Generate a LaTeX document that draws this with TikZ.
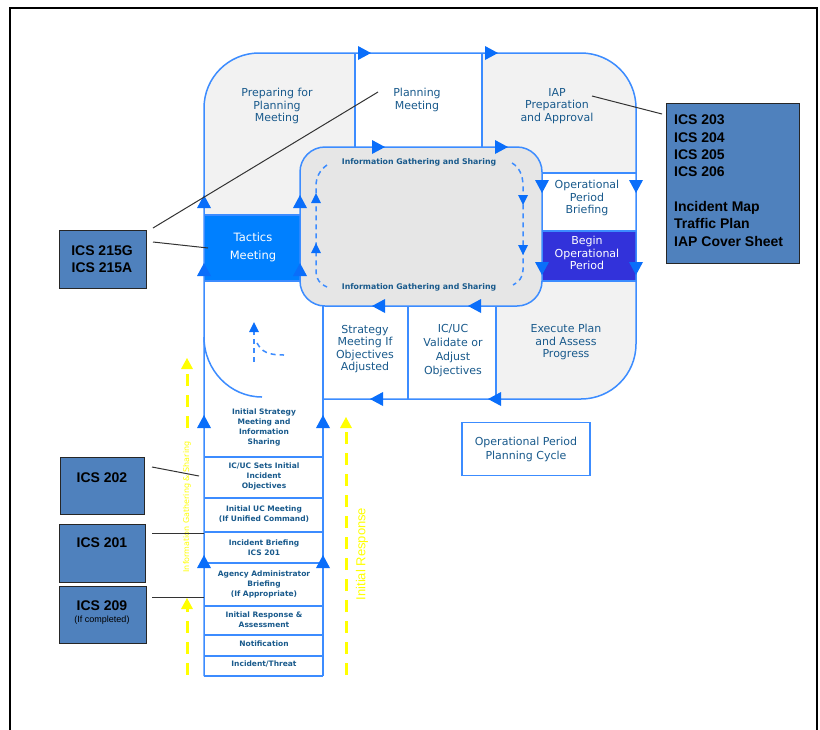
\documentclass[tikz,border=0pt]{standalone}
\usepackage{fontspec}
\setmainfont{DejaVu Sans}
\newfontfamily\arialf{Liberation Sans}
\definecolor{lineblue}{RGB}{60,140,255}
\definecolor{arrblue}{RGB}{10,110,250}
\definecolor{txtblue}{RGB}{25,90,140}
\definecolor{lgray}{RGB}{242,242,242}
\definecolor{mgray}{RGB}{230,230,230}
\definecolor{tacblue}{RGB}{0,128,255}
\definecolor{beginblue}{RGB}{50,50,218}
\definecolor{icsblue}{RGB}{79,129,189}
\definecolor{ylw}{RGB}{255,255,0}
\begin{document}
\begin{tikzpicture}[x=1pt,y=-1pt,
 bl/.style={draw=lineblue,line width=1.5pt},
 lbl/.style={font=\fontsize{11}{12.5}\selectfont,text=txtblue,align=center,inner sep=0pt},
 stk/.style={font=\bfseries\fontsize{7.5}{10}\selectfont,text=txtblue,align=center,inner sep=0pt},
 info/.style={font=\bfseries\fontsize{7.8}{9}\selectfont,text=txtblue,inner sep=0pt},
 icsbox/.style={draw=black!85,line width=1pt,fill=icsblue},
 icst/.style={font=\arialf\bfseries\fontsize{14}{17.3}\selectfont,text=black,inner sep=0pt},
 leader/.style={draw=black!80,line width=1pt},
 tri/.pic={\fill[arrblue] (0,0) -- (-13,-7) -- (-13,7) -- cycle;},
 stri/.pic={\fill[arrblue] (0,0) -- (-10,-5) -- (-10,5) -- cycle;},
 ytri/.pic={\fill[ylw] (0,0) -- (-11,-6) -- (-11,6) -- cycle;},
 dsh/.style={draw=lineblue,line width=1.5pt,dash pattern=on 5pt off 4pt},
 ydsh/.style={draw=ylw,line width=3pt,dash pattern=on 12pt off 9pt},
]
\useasboundingbox (0,0) rectangle (820,729);
\fill[white] (0,0) rectangle (820,729);
\begin{scope}
\clip (0,0) rectangle (820,729);
\draw[line width=2pt] (10,740) -- (10,8) -- (817,8) -- (817,740);
\end{scope}

% gray outer region
\fill[lgray] (204,281) -- (204,108) .. controls (204,77.6) and (228.6,53) .. (259,53) -- (581,53) .. controls (611.4,53) and (636,77.6) .. (636,108) -- (636,344) .. controls (636,374.4) and (611.4,399) .. (581,399) -- (323,399) -- (323,281) -- cycle;
\fill[white] (355,53) rectangle (482,147);
\fill[white] (542,173) rectangle (636,231);
\fill[white] (323,306) rectangle (496,399);
\fill[tacblue] (204,215) rectangle (300,281);
\fill[beginblue] (542,231) rectangle (636,281);

% outline
\draw[bl] (204,676) -- (204,108) .. controls (204,77.6) and (228.6,53) .. (259,53) -- (581,53) .. controls (611.4,53) and (636,77.6) .. (636,108) -- (636,344) .. controls (636,374.4) and (611.4,399) .. (581,399) -- (323,399);
\draw[bl] (355,53) -- (355,147) (482,53) -- (482,147);
\draw[bl] (542,173) -- (636,173) (542,231) -- (636,231) (542,281) -- (636,281);
\draw[bl] (204,215) -- (300,215) (204,281) -- (300,281);
\draw[bl] (323,306) -- (323,676) (408,306) -- (408,399) (496,306) -- (496,399);
\draw[bl] (204,457) -- (323,457) (204,498) -- (323,498) (204,532) -- (323,532)
 (204,563) -- (323,563) (204,606) -- (323,606) (204,635) -- (323,635)
 (204,656) -- (323,656) (204,676) -- (323,676);
\draw[bl] (204,337) .. controls (204,370) and (230,397) .. (262,397);

% inner rounded rectangle
\filldraw[fill=mgray,bl,rounded corners=25pt] (300,147) rectangle (542,306);

% dashed inner loop
\draw[dsh] (327,165) .. controls (320,170) and (316,177) .. (316,186) -- (316,272) .. controls (316,279) and (320,284) .. (327,287);
\draw[dsh] (512,163) .. controls (519,167) and (523,175) .. (523,186) -- (523,270) .. controls (523,277) and (519,282) .. (513,285);
\pic[rotate=90] at (316,193) {stri};
\pic[rotate=90] at (316,243) {stri};
\pic[rotate=-90] at (523,205) {stri};
\pic[rotate=-90] at (523,255) {stri};

% small dashed arrow lower-left
\draw[dsh] (254,362) -- (254,330);
\pic[rotate=90] at (254,322) {stri};
\draw[dsh] (257,343) .. controls (262,352) and (268,355) .. (284,355);

% solid arrows
\pic at (371,53) {tri};
\pic at (498,53) {tri};
\pic at (385,147) {tri};
\pic at (508,147) {tri};
\pic[rotate=-90] at (542,193) {tri};
\pic[rotate=-90] at (636,193) {tri};
\pic[rotate=-90] at (542,275) {tri};
\pic[rotate=-90] at (636,275) {tri};
\pic[rotate=180] at (372,306) {tri};
\pic[rotate=180] at (468,306) {tri};
\pic[rotate=180] at (370,399) {tri};
\pic[rotate=180] at (488,399) {tri};
\pic[rotate=90] at (204,195) {tri};
\pic[rotate=90] at (300,195) {tri};
\pic[rotate=90] at (204,263) {tri};
\pic[rotate=90] at (300,263) {tri};
\pic[rotate=90] at (204,415) {tri};
\pic[rotate=90] at (323,415) {tri};
\pic[rotate=90] at (204,555) {tri};
\pic[rotate=90] at (323,555) {tri};

% main labels
\node[lbl] (prep) at (277,106) {Preparing for\\Planning\\Meeting};
\node[lbl] (plan) at (417,100) {Planning\\Meeting};
\node[lbl] (iap) at (557,106) {IAP\\Preparation\\and Approval};
\node[lbl] (brief) at (587,198) {Operational\\Period\\Briefing};
\node[lbl,text=white] (begin) at (587,253) {Begin\\Operational\\Period};
\node[lbl,text=white,font=\fontsize{11.5}{18}\selectfont] (tact) at (253,247) {Tactics\\Meeting};
\node[lbl] (strat) at (365,349) {Strategy\\Meeting If\\Objectives\\Adjusted};
\node[lbl,font=\fontsize{11}{14}\selectfont] (valid) at (453,351) {IC/UC\\Validate or\\Adjust\\Objectives};
\node[lbl] (exec) at (566,342) {Execute Plan\\and Assess\\Progress};
\node[info] (infotop) at (419,162) {Information Gathering and Sharing};
\node[info] (infobot) at (419,287) {Information Gathering and Sharing};

% stack labels
\node[stk] (s1) at (264,427) {Initial Strategy\\Meeting and\\Information\\Sharing};
\node[stk] (s2) at (264,476) {IC/UC Sets Initial\\Incident\\Objectives};
\node[stk] (s3) at (264,514) {Initial UC Meeting\\(If Unified Command)};
\node[stk] (s4) at (264,548) {Incident Briefing\\ICS 201};
\node[stk] (s5) at (264,584) {Agency Administrator\\Briefing\\(If Appropriate)};
\node[stk] (s6) at (264,620) {Initial Response \&\\Assessment};
\node[stk] (s7) at (264,644) {Notification};
\node[stk] (s8) at (264,664) {Incident/Threat};

% cycle label box
\node[lbl,draw=lineblue,line width=1.5pt,fill=white,minimum width=128pt,minimum height=53pt,font=\fontsize{11}{14}\selectfont] (cycle) at (526,449) {Operational Period\\Planning Cycle};

% yellow dashed
\draw[ydsh] (187,675) -- (187,608);
\pic[rotate=90] at (187,598) {ytri};
\draw[ydsh] (187,428) -- (187,370);
\pic[rotate=90] at (187,358) {ytri};
\draw[ydsh] (346,675) -- (346,428);
\pic[rotate=90] at (346,417) {ytri};
\node[rotate=90,text=ylw,font=\fontsize{8}{9}\selectfont,inner sep=0pt] (yinfo) at (187,507) {Information Gathering \& Sharing};
\node[rotate=90,text=ylw,font=\arialf\fontsize{13}{14}\selectfont,inner sep=0pt] (yresp) at (362,554) {Initial Response};

% ICS boxes
\draw[icsbox] (59,230) rectangle (146,288);
\node[icst,align=center] (ics215) at (102,259) {ICS 215G\\ICS 215A};
\draw[icsbox] (60,457) rectangle (144,514);
\node[icst] (ics202) at (102,478) {ICS 202};
\draw[icsbox] (59,524) rectangle (145,582);
\node[icst] (ics201) at (102,543) {ICS 201};
\draw[icsbox] (59,586) rectangle (146,643);
\node[icst] (ics209) at (102,606) {ICS 209};
\node[font=\arialf\fontsize{9}{10}\selectfont,inner sep=0pt] (ics209b) at (102,620) {(If completed)};
\draw[icsbox] (666,103) rectangle (799,263);
\node[icst,align=left,anchor=north west] (ics203) at (674,115) {ICS 203\\ICS 204\\ICS 205\\ICS 206\\[17.3pt]Incident Map\\Traffic Plan\\IAP Cover Sheet};

% leader lines
\coordinate (l1a) at (153,228); \coordinate (l1b) at (378,92);
\coordinate (l2a) at (153,242); \coordinate (l2b) at (208,248);
\coordinate (l3a) at (592,96);  \coordinate (l3b) at (662,114);
\coordinate (l4a) at (152,467); \coordinate (l4b) at (199,476);
\coordinate (l5a) at (152,533); \coordinate (l5b) at (204,533);
\coordinate (l6a) at (152,597); \coordinate (l6b) at (204,597);
\draw[leader] (l1a) -- (l1b);
\draw[leader] (l2a) -- (l2b);
\draw[leader] (l3a) -- (l3b);
\draw[leader] (l4a) -- (l4b);
\draw[leader] (l5a) -- (l5b);
\draw[leader] (l6a) -- (l6b);
\end{tikzpicture}
\end{document}
